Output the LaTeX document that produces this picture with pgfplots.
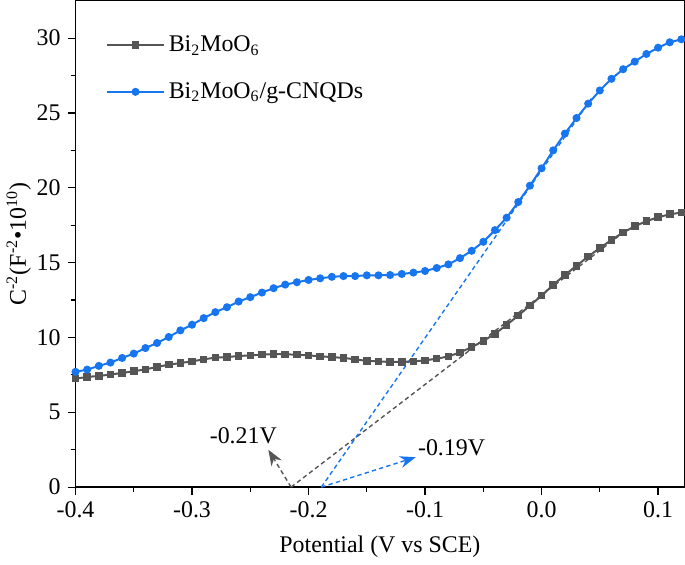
\documentclass[border=0pt]{standalone}
\usepackage{pgfplots}
\pgfplotsset{compat=1.18}
\usepackage{fontspec}
\setmainfont{Liberation Serif}
\usetikzlibrary{arrows.meta}

\definecolor{cgray}{RGB}{85,85,85}
\definecolor{cblue}{RGB}{23,118,239}

\begin{document}
\begin{tikzpicture}
\begin{axis}[
    scale only axis,
    width=306pt, height=244.5pt,
    xmin=-0.4, xmax=0.1225,
    ymin=0, ymax=32.5,
    xtick={-0.4,-0.3,-0.2,-0.1,0.0,0.1},
    xticklabels={-0.4,-0.3,-0.2,-0.1,0.0,0.1},
    ytick={0,5,10,15,20,25,30},
    minor xtick={-0.35,-0.25,-0.15,-0.05,0.05},
    minor ytick={2.5,7.5,12.5,17.5,22.5,27.5},
    xtick pos=bottom, ytick pos=left,
    tick align=outside,
    major tick length=4pt, minor tick length=2.5pt,
    every tick/.style={black, line width=0.6pt},
    axis line style={line width=0.7pt},
    /pgf/number format/assume math mode=true,
    ticklabel style={font=\fontsize{12}{14}\selectfont},
    label style={font=\fontsize{12}{14}\selectfont},
    xlabel={Potential (V vs SCE)},
    ylabel={C\textsuperscript{-2}(F\textsuperscript{-2}\textbullet10\textsuperscript{10})},
    xlabel style={yshift=-2pt},
    ylabel style={yshift=-4pt},
    legend style={draw=none, fill=none, at={(rel axis cs:0.04,0.945)}, anchor=north west,
        font=\fontsize{12}{14}\selectfont, row sep=10pt},
    legend cell align=left,
    legend image code/.code={\draw[mark repeat=2,mark phase=2] plot coordinates {(0cm,0cm) (0.5cm,0cm) (1cm,0cm)};},
]
% tangent lines
\addplot[forget plot, cgray, line width=0.7pt, dash pattern=on 2.2pt off 1.6pt] coordinates {(-0.215,0) (0.07,17.0)};
\addplot[forget plot, cblue, line width=0.7pt, dash pattern=on 2.2pt off 1.6pt] coordinates {(-0.189,0) (0.044,26.1)};
% arrows
\addplot[forget plot, cgray, line width=0.7pt, dash pattern=on 2.2pt off 1.6pt, -{Stealth[length=8pt,width=6pt]}] coordinates {(-0.215,0) (-0.2345,2.5)};
\addplot[forget plot, cblue, line width=0.7pt, dash pattern=on 2.2pt off 1.6pt, -{Stealth[length=8pt,width=6pt]}] coordinates {(-0.189,0) (-0.108,2.0)};
\node[font=\fontsize{12}{14}\selectfont] at (axis cs:-0.256,3.4) {-0.21V};
\node[font=\fontsize{12}{14}\selectfont, anchor=west] at (axis cs:-0.112,2.65) {-0.19V};

\addplot[cgray, line width=1pt, mark=square*, mark size=1.4pt] coordinates {
(-0.40,7.25) (-0.39,7.36) (-0.38,7.43) (-0.37,7.52) (-0.36,7.63) (-0.35,7.74)
(-0.34,7.87) (-0.33,8.03) (-0.32,8.18) (-0.31,8.29) (-0.30,8.40) (-0.29,8.54)
(-0.28,8.65) (-0.27,8.69) (-0.26,8.76) (-0.25,8.80) (-0.24,8.85) (-0.23,8.89)
(-0.22,8.87) (-0.21,8.85) (-0.20,8.80) (-0.19,8.74) (-0.18,8.69) (-0.17,8.63)
(-0.16,8.54) (-0.15,8.43) (-0.14,8.40) (-0.13,8.36) (-0.12,8.36) (-0.11,8.40)
(-0.10,8.47) (-0.09,8.58) (-0.08,8.73) (-0.07,9.00) (-0.06,9.35) (-0.05,9.77)
(-0.04,10.24) (-0.03,10.84) (-0.02,11.46) (-0.01,12.13) (0.00,12.79) (0.01,13.52)
(0.02,14.17) (0.03,14.79) (0.04,15.41) (0.05,15.97) (0.06,16.52) (0.07,17.01)
(0.08,17.43) (0.09,17.77) (0.10,18.03) (0.11,18.23) (0.12,18.34)
};
\addlegendentry{Bi\textsubscript{2}MoO\textsubscript{6}}

\addplot[cblue, line width=1pt, mark=*, mark size=1.5pt] coordinates {
(-0.40,7.70) (-0.39,7.85) (-0.38,8.10) (-0.37,8.32) (-0.36,8.63) (-0.35,8.92)
(-0.34,9.29) (-0.33,9.63) (-0.32,10.03) (-0.31,10.47) (-0.30,10.85) (-0.29,11.29)
(-0.28,11.69) (-0.27,12.02) (-0.26,12.40) (-0.25,12.69) (-0.24,13.00) (-0.23,13.29)
(-0.22,13.53) (-0.21,13.69) (-0.20,13.84) (-0.19,13.95) (-0.18,14.05) (-0.17,14.10)
(-0.16,14.10) (-0.15,14.15) (-0.14,14.15) (-0.13,14.17) (-0.12,14.24) (-0.11,14.33)
(-0.10,14.44) (-0.09,14.64) (-0.08,14.88) (-0.07,15.30) (-0.06,15.79) (-0.05,16.39)
(-0.04,17.17) (-0.03,18.00) (-0.02,19.05) (-0.01,20.14) (0.00,21.30) (0.01,22.50)
(0.02,23.62) (0.03,24.66) (0.04,25.62) (0.05,26.50) (0.06,27.28) (0.07,27.92)
(0.08,28.43) (0.09,28.94) (0.10,29.36) (0.11,29.72) (0.12,29.92)
};
\addlegendentry{Bi\textsubscript{2}MoO\textsubscript{6}/g-CNQDs}
\end{axis}
\end{tikzpicture}
\end{document}
